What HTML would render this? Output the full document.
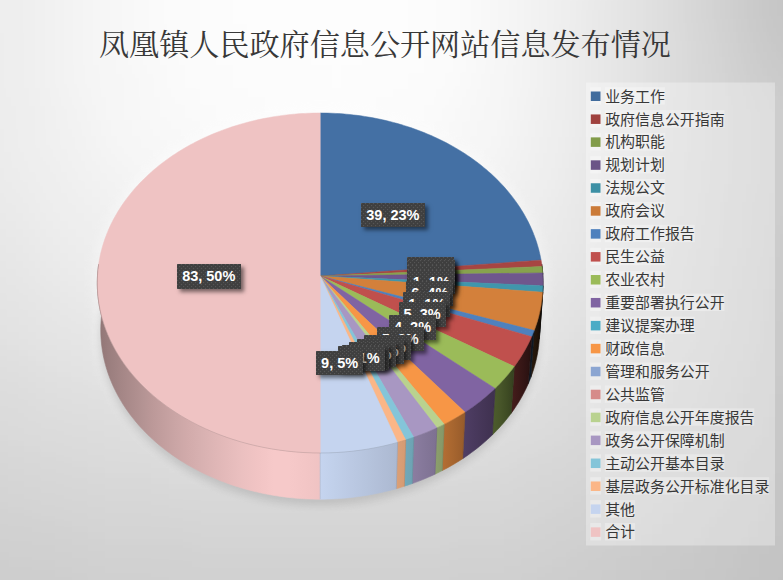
<!DOCTYPE html>
<html lang="zh"><head><meta charset="utf-8"><title>凤凰镇人民政府信息公开网站信息发布情况</title>
<style>
html,body{margin:0;padding:0}
body{width:783px;height:580px;overflow:hidden;position:relative;font-family:"Liberation Sans",sans-serif;
background:#e2e2e2}
#chart{position:absolute;left:0;top:0}
.txt{position:absolute;color:transparent;white-space:nowrap;margin:0;font-weight:normal}
h1.txt{left:99px;top:25px;font-size:30.1px;line-height:34px;letter-spacing:0;width:572px;overflow:hidden;font-family:"Liberation Serif",serif}
ul.txt{left:605.3px;top:84.7px;list-style:none;padding:0;font-size:14.9px;line-height:22.94px;width:169px;overflow:hidden}
ul.txt li{height:22.94px;overflow:hidden}
.lb{position:absolute;height:24.5px;line-height:25.6px;text-align:center;color:#fff;font-weight:bold;font-size:14.5px;white-space:nowrap;
 background-color:#3f3f3f;
 background-image:radial-gradient(circle at 0.5px 0.5px,rgba(255,255,255,0.12) 0.4px,rgba(255,255,255,0) 1.1px),radial-gradient(circle at 2.5px 2.5px,rgba(255,255,255,0.12) 0.4px,rgba(255,255,255,0) 1.1px);
 background-size:4px 4px;background-position:2px 2px;
 box-shadow:3px 3px 4px rgba(0,0,0,0.5)}
</style></head>
<body>
<svg id="chart" width="783" height="580" viewBox="0 0 783 580">
<defs>
<filter id="bgb" filterUnits="userSpaceOnUse" x="-64" y="-64" width="911" height="708"><feGaussianBlur stdDeviation="14"/></filter>
<filter id="b6" x="-20%" y="-20%" width="140%" height="140%"><feGaussianBlur stdDeviation="5"/></filter>
<filter id="b2" x="-20%" y="-20%" width="140%" height="140%"><feGaussianBlur stdDeviation="4"/></filter>
<linearGradient id="w1" gradientUnits="userSpaceOnUse" x1="538.3" y1="0" x2="542.05" y2="0"><stop offset="0.46" stop-color="#0c0505"/><stop offset="0.54" stop-color="#0d0505"/></linearGradient>
<linearGradient id="w2" gradientUnits="userSpaceOnUse" x1="538.59" y1="0" x2="542.71" y2="0"><stop offset="0.42" stop-color="#0a0c06"/><stop offset="0.58" stop-color="#0b0d06"/></linearGradient>
<linearGradient id="w3" gradientUnits="userSpaceOnUse" x1="539.24" y1="0" x2="543.1" y2="0"><stop offset="0.45" stop-color="#09070c"/><stop offset="0.54" stop-color="#0a080d"/><stop offset="0.54" stop-color="#0b080e"/></linearGradient>
<linearGradient id="w4" gradientUnits="userSpaceOnUse" x1="539.29" y1="0" x2="543.07" y2="0"><stop offset="0.46" stop-color="#071012"/><stop offset="0.54" stop-color="#060f11"/></linearGradient>
<linearGradient id="w5" gradientUnits="userSpaceOnUse" x1="530.85" y1="0" x2="542.78" y2="0"><stop offset="0.14" stop-color="#28180b"/><stop offset="0.41" stop-color="#22150a"/><stop offset="0.62" stop-color="#1d1108"/><stop offset="0.77" stop-color="#180f07"/><stop offset="0.85" stop-color="#160d06"/></linearGradient>
<linearGradient id="w6" gradientUnits="userSpaceOnUse" x1="528.35" y1="0" x2="534.24" y2="0"><stop offset="0.28" stop-color="#101b27"/><stop offset="0.71" stop-color="#0f1823"/></linearGradient>
<linearGradient id="w7" gradientUnits="userSpaceOnUse" x1="511.22" y1="0" x2="531.7" y2="0"><stop offset="0.08" stop-color="#441c1b"/><stop offset="0.4" stop-color="#3a1817"/><stop offset="0.68" stop-color="#311414"/><stop offset="0.92" stop-color="#281110"/></linearGradient>
<linearGradient id="w8" gradientUnits="userSpaceOnUse" x1="492.28" y1="0" x2="514.32" y2="0"><stop offset="0.06" stop-color="#4c5c2c"/><stop offset="0.37" stop-color="#475529"/><stop offset="0.66" stop-color="#3f4c24"/><stop offset="0.93" stop-color="#374220"/></linearGradient>
<linearGradient id="w19" gradientUnits="userSpaceOnUse" x1="97.3" y1="0" x2="320.2" y2="0"><stop offset="0.01" stop-color="#8e7474"/><stop offset="0.01" stop-color="#8c7272"/><stop offset="0.01" stop-color="#917676"/><stop offset="0.01" stop-color="#897070"/><stop offset="0.02" stop-color="#937878"/><stop offset="0.03" stop-color="#967a7a"/><stop offset="0.05" stop-color="#9a7e7e"/><stop offset="0.08" stop-color="#9f8282"/><stop offset="0.1" stop-color="#a38585"/><stop offset="0.13" stop-color="#a88989"/><stop offset="0.17" stop-color="#ae8e8e"/><stop offset="0.21" stop-color="#b59494"/><stop offset="0.25" stop-color="#bc9999"/><stop offset="0.3" stop-color="#c39f9f"/><stop offset="0.35" stop-color="#caa5a5"/><stop offset="0.41" stop-color="#d2abab"/><stop offset="0.47" stop-color="#d8b1b1"/><stop offset="0.53" stop-color="#dfb6b6"/><stop offset="0.59" stop-color="#e5bbbb"/><stop offset="0.65" stop-color="#ebc0c0"/><stop offset="0.72" stop-color="#f1c4c4"/><stop offset="0.79" stop-color="#f6c9c9"/><stop offset="0.86" stop-color="#f6c9c9"/><stop offset="0.93" stop-color="#f3c6c6"/><stop offset="1" stop-color="#efc3c3"/></linearGradient>
<linearGradient id="w9" gradientUnits="userSpaceOnUse" x1="462.7" y1="0" x2="495.09" y2="0"><stop offset="0.04" stop-color="#4f3e64"/><stop offset="0.36" stop-color="#49395d"/><stop offset="0.67" stop-color="#443556"/><stop offset="0.96" stop-color="#3f3150"/></linearGradient>
<linearGradient id="w11" gradientUnits="userSpaceOnUse" x1="442.21" y1="0" x2="465.04" y2="0"><stop offset="0.04" stop-color="#b36d33"/><stop offset="0.51" stop-color="#a6652f"/><stop offset="0.95" stop-color="#985c2b"/></linearGradient>
<linearGradient id="w14" gradientUnits="userSpaceOnUse" x1="434.97" y1="0" x2="444.21" y2="0"><stop offset="0.1" stop-color="#8b9e6b"/><stop offset="0.89" stop-color="#869868"/></linearGradient>
<linearGradient id="w15" gradientUnits="userSpaceOnUse" x1="412.23" y1="0" x2="436.86" y2="0"><stop offset="0.03" stop-color="#8b7da0"/><stop offset="0.5" stop-color="#847799"/><stop offset="0.96" stop-color="#7e7192"/></linearGradient>
<linearGradient id="w16" gradientUnits="userSpaceOnUse" x1="404.34" y1="0" x2="413.75" y2="0"><stop offset="0.07" stop-color="#70a8b9"/><stop offset="0.92" stop-color="#6da3b3"/></linearGradient>
<linearGradient id="w17" gradientUnits="userSpaceOnUse" x1="396.32" y1="0" x2="405.73" y2="0"><stop offset="0.07" stop-color="#db9f76"/><stop offset="0.93" stop-color="#d59b73"/></linearGradient>
<linearGradient id="w18" gradientUnits="userSpaceOnUse" x1="320.2" y1="0" x2="397.57" y2="0"><stop offset="0" stop-color="#c5d4ef"/><stop offset="0.2" stop-color="#c0cfe9"/><stop offset="0.4" stop-color="#bbc9e3"/><stop offset="0.6" stop-color="#b6c4dd"/><stop offset="0.8" stop-color="#b1bed7"/><stop offset="0.99" stop-color="#acb9d1"/></linearGradient>
</defs>
<g filter="url(#bgb)"><path fill="#c3c3c3" d="M768,544h33v33h-33zM800,544h33v33h-33zM832,544h33v33h-33zM768,576h33v33h-33zM800,576h33v33h-33zM832,576h33v33h-33zM768,608h33v33h-33zM800,608h33v33h-33zM832,608h33v33h-33zM768,640h33v33h-33zM800,640h33v33h-33zM832,640h33v33h-33z"/><path fill="#c4c4c4" d="M768,512h33v33h-33zM800,512h33v33h-33zM832,512h33v33h-33zM736,576h33v33h-33zM736,608h33v33h-33zM736,640h33v33h-33z"/><path fill="#c5c5c5" d="M768,-64h33v33h-33zM800,-64h33v33h-33zM832,-64h33v33h-33zM768,-32h33v33h-33zM800,-32h33v33h-33zM832,-32h33v33h-33zM768,0h33v33h-33zM800,0h33v33h-33zM832,0h33v33h-33zM768,480h33v33h-33zM800,480h33v33h-33zM832,480h33v33h-33zM736,544h33v33h-33z"/><path fill="#c6c6c6" d="M768,448h33v33h-33zM800,448h33v33h-33zM832,448h33v33h-33zM736,512h33v33h-33zM704,576h33v33h-33zM704,608h33v33h-33zM704,640h33v33h-33z"/><path fill="#c7c7c7" d="M768,32h33v33h-33zM800,32h33v33h-33zM832,32h33v33h-33zM768,416h33v33h-33zM800,416h33v33h-33zM832,416h33v33h-33zM736,480h33v33h-33zM704,544h33v33h-33z"/><path fill="#c8c8c8" d="M768,384h33v33h-33zM800,384h33v33h-33zM832,384h33v33h-33zM736,448h33v33h-33zM704,512h33v33h-33zM672,576h33v33h-33zM672,608h33v33h-33zM672,640h33v33h-33z"/><path fill="#c9c9c9" d="M768,320h33v33h-33zM800,320h33v33h-33zM832,320h33v33h-33zM768,352h33v33h-33zM800,352h33v33h-33zM832,352h33v33h-33zM672,544h33v33h-33zM640,576h33v33h-33zM640,608h33v33h-33zM640,640h33v33h-33z"/><path fill="#cacaca" d="M736,-64h33v33h-33zM736,-32h33v33h-33zM736,0h33v33h-33zM768,64h33v33h-33zM800,64h33v33h-33zM832,64h33v33h-33zM768,288h33v33h-33zM800,288h33v33h-33zM832,288h33v33h-33zM736,416h33v33h-33zM704,480h33v33h-33zM672,512h33v33h-33zM640,544h33v33h-33z"/><path fill="#cbcbcb" d="M768,224h33v33h-33zM800,224h33v33h-33zM832,224h33v33h-33zM768,256h33v33h-33zM800,256h33v33h-33zM832,256h33v33h-33zM736,384h33v33h-33zM704,448h33v33h-33zM608,576h33v33h-33zM608,608h33v33h-33zM608,640h33v33h-33z"/><path fill="#cccccc" d="M736,32h33v33h-33zM768,96h33v33h-33zM800,96h33v33h-33zM832,96h33v33h-33zM768,128h33v33h-33zM800,128h33v33h-33zM832,128h33v33h-33zM768,160h33v33h-33zM800,160h33v33h-33zM832,160h33v33h-33zM768,192h33v33h-33zM800,192h33v33h-33zM832,192h33v33h-33zM736,352h33v33h-33zM704,416h33v33h-33zM672,480h33v33h-33zM640,512h33v33h-33zM608,544h33v33h-33zM576,576h33v33h-33zM576,608h33v33h-33zM576,640h33v33h-33z"/><path fill="#cdcdcd" d="M736,288h33v33h-33zM736,320h33v33h-33zM576,544h33v33h-33zM-64,576h33v33h-33zM-32,576h33v33h-33zM0,576h33v33h-33zM544,576h33v33h-33zM-64,608h33v33h-33zM-32,608h33v33h-33zM0,608h33v33h-33zM544,608h33v33h-33zM-64,640h33v33h-33zM-32,640h33v33h-33zM0,640h33v33h-33zM544,640h33v33h-33z"/><path fill="#cecece" d="M736,64h33v33h-33zM736,256h33v33h-33zM704,384h33v33h-33zM672,448h33v33h-33zM640,480h33v33h-33zM608,512h33v33h-33zM-64,544h33v33h-33zM-32,544h33v33h-33zM32,576h33v33h-33zM64,576h33v33h-33zM512,576h33v33h-33zM32,608h33v33h-33zM64,608h33v33h-33zM512,608h33v33h-33zM32,640h33v33h-33zM64,640h33v33h-33zM512,640h33v33h-33z"/><path fill="#cfcfcf" d="M736,192h33v33h-33zM736,224h33v33h-33zM704,352h33v33h-33zM672,416h33v33h-33zM0,544h33v33h-33zM32,544h33v33h-33zM544,544h33v33h-33zM96,576h33v33h-33zM128,576h33v33h-33zM448,576h33v33h-33zM480,576h33v33h-33zM96,608h33v33h-33zM128,608h33v33h-33zM448,608h33v33h-33zM480,608h33v33h-33zM96,640h33v33h-33zM128,640h33v33h-33zM448,640h33v33h-33zM480,640h33v33h-33z"/><path fill="#d0d0d0" d="M736,96h33v33h-33zM736,128h33v33h-33zM736,160h33v33h-33zM704,320h33v33h-33zM640,448h33v33h-33zM608,480h33v33h-33zM576,512h33v33h-33zM64,544h33v33h-33zM512,544h33v33h-33zM160,576h33v33h-33zM192,576h33v33h-33zM224,576h33v33h-33zM256,576h33v33h-33zM288,576h33v33h-33zM320,576h33v33h-33zM352,576h33v33h-33zM384,576h33v33h-33zM416,576h33v33h-33zM160,608h33v33h-33zM192,608h33v33h-33zM224,608h33v33h-33zM256,608h33v33h-33zM288,608h33v33h-33zM320,608h33v33h-33zM352,608h33v33h-33zM384,608h33v33h-33zM416,608h33v33h-33zM160,640h33v33h-33zM192,640h33v33h-33zM224,640h33v33h-33zM256,640h33v33h-33zM288,640h33v33h-33zM320,640h33v33h-33zM352,640h33v33h-33zM384,640h33v33h-33zM416,640h33v33h-33z"/><path fill="#d1d1d1" d="M704,-64h33v33h-33zM704,-32h33v33h-33zM704,0h33v33h-33zM704,288h33v33h-33zM672,384h33v33h-33zM-64,512h33v33h-33zM-32,512h33v33h-33zM0,512h33v33h-33zM544,512h33v33h-33zM96,544h33v33h-33zM128,544h33v33h-33zM160,544h33v33h-33zM448,544h33v33h-33zM480,544h33v33h-33z"/><path fill="#d2d2d2" d="M704,256h33v33h-33zM672,352h33v33h-33zM640,416h33v33h-33zM576,480h33v33h-33zM32,512h33v33h-33zM192,544h33v33h-33zM224,544h33v33h-33zM256,544h33v33h-33zM288,544h33v33h-33zM320,544h33v33h-33zM352,544h33v33h-33zM384,544h33v33h-33zM416,544h33v33h-33z"/><path fill="#d3d3d3" d="M704,32h33v33h-33zM704,192h33v33h-33zM704,224h33v33h-33zM608,448h33v33h-33zM-64,480h33v33h-33zM-32,480h33v33h-33zM64,512h33v33h-33zM512,512h33v33h-33z"/><path fill="#d4d4d4" d="M704,64h33v33h-33zM704,96h33v33h-33zM704,128h33v33h-33zM704,160h33v33h-33zM672,320h33v33h-33zM640,384h33v33h-33zM0,480h33v33h-33zM544,480h33v33h-33zM96,512h33v33h-33zM128,512h33v33h-33zM160,512h33v33h-33zM448,512h33v33h-33zM480,512h33v33h-33z"/><path fill="#d5d5d5" d="M672,288h33v33h-33zM608,416h33v33h-33zM576,448h33v33h-33zM32,480h33v33h-33zM512,480h33v33h-33zM192,512h33v33h-33zM224,512h33v33h-33zM256,512h33v33h-33zM288,512h33v33h-33zM320,512h33v33h-33zM352,512h33v33h-33zM384,512h33v33h-33zM416,512h33v33h-33z"/><path fill="#d6d6d6" d="M672,256h33v33h-33zM640,352h33v33h-33zM-64,448h33v33h-33zM-32,448h33v33h-33zM64,480h33v33h-33z"/><path fill="#d7d7d7" d="M672,224h33v33h-33zM640,320h33v33h-33zM608,384h33v33h-33zM576,416h33v33h-33zM0,448h33v33h-33zM544,448h33v33h-33zM96,480h33v33h-33zM128,480h33v33h-33zM448,480h33v33h-33zM480,480h33v33h-33z"/><path fill="#d8d8d8" d="M672,-64h33v33h-33zM672,-32h33v33h-33zM672,0h33v33h-33zM672,160h33v33h-33zM672,192h33v33h-33zM32,448h33v33h-33zM512,448h33v33h-33zM160,480h33v33h-33zM192,480h33v33h-33zM224,480h33v33h-33zM256,480h33v33h-33zM288,480h33v33h-33zM320,480h33v33h-33zM352,480h33v33h-33zM384,480h33v33h-33zM416,480h33v33h-33z"/><path fill="#d9d9d9" d="M672,32h33v33h-33zM672,64h33v33h-33zM672,96h33v33h-33zM672,128h33v33h-33zM640,288h33v33h-33zM608,352h33v33h-33zM-64,416h33v33h-33zM-32,416h33v33h-33zM64,448h33v33h-33z"/><path fill="#dadada" d="M640,256h33v33h-33zM576,384h33v33h-33zM0,416h33v33h-33zM544,416h33v33h-33zM96,448h33v33h-33zM128,448h33v33h-33zM480,448h33v33h-33z"/><path fill="#dbdbdb" d="M608,320h33v33h-33zM-64,384h33v33h-33zM-32,384h33v33h-33zM32,416h33v33h-33zM160,448h33v33h-33zM192,448h33v33h-33zM416,448h33v33h-33zM448,448h33v33h-33z"/><path fill="#dcdcdc" d="M640,224h33v33h-33zM576,352h33v33h-33zM0,384h33v33h-33zM544,384h33v33h-33zM64,416h33v33h-33zM512,416h33v33h-33zM224,448h33v33h-33zM256,448h33v33h-33zM288,448h33v33h-33zM320,448h33v33h-33zM352,448h33v33h-33zM384,448h33v33h-33z"/><path fill="#dddddd" d="M640,160h33v33h-33zM640,192h33v33h-33zM608,288h33v33h-33zM96,416h33v33h-33zM480,416h33v33h-33z"/><path fill="#dedede" d="M640,96h33v33h-33zM640,128h33v33h-33zM-64,352h33v33h-33zM-32,352h33v33h-33zM32,384h33v33h-33zM128,416h33v33h-33zM160,416h33v33h-33zM448,416h33v33h-33z"/><path fill="#dfdfdf" d="M640,-64h33v33h-33zM640,-32h33v33h-33zM640,0h33v33h-33zM640,32h33v33h-33zM640,64h33v33h-33zM608,256h33v33h-33zM576,320h33v33h-33zM0,352h33v33h-33zM544,352h33v33h-33zM64,384h33v33h-33zM512,384h33v33h-33zM192,416h33v33h-33zM224,416h33v33h-33zM256,416h33v33h-33zM288,416h33v33h-33zM320,416h33v33h-33zM352,416h33v33h-33zM384,416h33v33h-33zM416,416h33v33h-33z"/><path fill="#e0e0e0" d="M608,224h33v33h-33zM96,384h33v33h-33zM480,384h33v33h-33z"/><path fill="#e1e1e1" d="M608,192h33v33h-33zM576,288h33v33h-33zM-64,320h33v33h-33zM-32,320h33v33h-33zM32,352h33v33h-33zM128,384h33v33h-33z"/><path fill="#e2e2e2" d="M608,160h33v33h-33zM0,320h33v33h-33zM544,320h33v33h-33zM64,352h33v33h-33zM512,352h33v33h-33zM160,384h33v33h-33zM192,384h33v33h-33zM416,384h33v33h-33zM448,384h33v33h-33z"/><path fill="#e3e3e3" d="M608,128h33v33h-33zM576,256h33v33h-33zM-64,288h33v33h-33zM-32,288h33v33h-33zM224,384h33v33h-33zM256,384h33v33h-33zM288,384h33v33h-33zM320,384h33v33h-33zM352,384h33v33h-33zM384,384h33v33h-33z"/><path fill="#e4e4e4" d="M608,-64h33v33h-33zM608,-32h33v33h-33zM608,0h33v33h-33zM608,32h33v33h-33zM608,64h33v33h-33zM608,96h33v33h-33zM0,288h33v33h-33zM544,288h33v33h-33zM32,320h33v33h-33zM96,352h33v33h-33zM480,352h33v33h-33z"/><path fill="#e5e5e5" d="M576,224h33v33h-33zM-64,256h33v33h-33zM-32,256h33v33h-33zM64,320h33v33h-33zM512,320h33v33h-33zM128,352h33v33h-33zM160,352h33v33h-33zM448,352h33v33h-33z"/><path fill="#e6e6e6" d="M576,192h33v33h-33zM0,256h33v33h-33zM32,288h33v33h-33zM192,352h33v33h-33zM224,352h33v33h-33zM416,352h33v33h-33z"/><path fill="#e7e7e7" d="M576,160h33v33h-33zM-64,224h33v33h-33zM-32,224h33v33h-33zM544,256h33v33h-33zM512,288h33v33h-33zM96,320h33v33h-33zM480,320h33v33h-33zM256,352h33v33h-33zM288,352h33v33h-33zM320,352h33v33h-33zM352,352h33v33h-33zM384,352h33v33h-33z"/><path fill="#e8e8e8" d="M576,128h33v33h-33zM0,224h33v33h-33zM64,288h33v33h-33zM128,320h33v33h-33z"/><path fill="#e9e9e9" d="M576,0h33v33h-33zM576,32h33v33h-33zM576,64h33v33h-33zM576,96h33v33h-33zM-64,192h33v33h-33zM-32,192h33v33h-33zM544,224h33v33h-33zM32,256h33v33h-33zM160,320h33v33h-33zM448,320h33v33h-33z"/><path fill="#eaeaea" d="M576,-64h33v33h-33zM576,-32h33v33h-33zM-64,160h33v33h-33zM-32,160h33v33h-33zM0,192h33v33h-33zM544,192h33v33h-33zM512,256h33v33h-33zM96,288h33v33h-33zM480,288h33v33h-33zM192,320h33v33h-33zM224,320h33v33h-33zM256,320h33v33h-33zM288,320h33v33h-33zM320,320h33v33h-33zM352,320h33v33h-33zM384,320h33v33h-33zM416,320h33v33h-33z"/><path fill="#ebebeb" d="M-64,128h33v33h-33zM-32,128h33v33h-33zM32,224h33v33h-33zM64,256h33v33h-33zM128,288h33v33h-33z"/><path fill="#ececec" d="M-64,32h33v33h-33zM-32,32h33v33h-33zM-64,64h33v33h-33zM-32,64h33v33h-33zM-64,96h33v33h-33zM-32,96h33v33h-33zM0,160h33v33h-33zM544,160h33v33h-33zM512,224h33v33h-33zM160,288h33v33h-33zM448,288h33v33h-33z"/><path fill="#ededed" d="M-64,-64h33v33h-33zM-32,-64h33v33h-33zM-64,-32h33v33h-33zM-32,-32h33v33h-33zM-64,0h33v33h-33zM-32,0h33v33h-33zM0,96h33v33h-33zM0,128h33v33h-33zM544,128h33v33h-33zM32,192h33v33h-33zM64,224h33v33h-33zM96,256h33v33h-33zM480,256h33v33h-33zM192,288h33v33h-33zM224,288h33v33h-33zM416,288h33v33h-33z"/><path fill="#eeeeee" d="M0,-64h33v33h-33zM0,-32h33v33h-33zM0,0h33v33h-33zM0,32h33v33h-33zM544,32h33v33h-33zM0,64h33v33h-33zM544,64h33v33h-33zM544,96h33v33h-33zM32,160h33v33h-33zM512,192h33v33h-33zM128,256h33v33h-33zM256,288h33v33h-33zM288,288h33v33h-33zM320,288h33v33h-33zM352,288h33v33h-33zM384,288h33v33h-33z"/><path fill="#efefef" d="M544,-64h33v33h-33zM544,-32h33v33h-33zM544,0h33v33h-33zM64,192h33v33h-33zM96,224h33v33h-33zM480,224h33v33h-33zM160,256h33v33h-33zM448,256h33v33h-33z"/><path fill="#f0f0f0" d="M32,96h33v33h-33zM32,128h33v33h-33zM512,160h33v33h-33zM192,256h33v33h-33zM416,256h33v33h-33z"/><path fill="#f1f1f1" d="M32,-64h33v33h-33zM32,-32h33v33h-33zM32,0h33v33h-33zM32,32h33v33h-33zM32,64h33v33h-33zM512,128h33v33h-33zM64,160h33v33h-33zM96,192h33v33h-33zM480,192h33v33h-33zM128,224h33v33h-33zM224,256h33v33h-33zM256,256h33v33h-33zM288,256h33v33h-33zM320,256h33v33h-33zM352,256h33v33h-33zM384,256h33v33h-33z"/><path fill="#f2f2f2" d="M512,96h33v33h-33zM64,128h33v33h-33zM160,224h33v33h-33zM448,224h33v33h-33z"/><path fill="#f3f3f3" d="M512,-64h33v33h-33zM512,-32h33v33h-33zM512,0h33v33h-33zM512,32h33v33h-33zM512,64h33v33h-33zM64,96h33v33h-33zM96,160h33v33h-33zM480,160h33v33h-33zM128,192h33v33h-33zM192,224h33v33h-33zM416,224h33v33h-33z"/><path fill="#f4f4f4" d="M64,-64h33v33h-33zM64,-32h33v33h-33zM64,0h33v33h-33zM64,32h33v33h-33zM64,64h33v33h-33zM160,192h33v33h-33zM448,192h33v33h-33zM224,224h33v33h-33zM256,224h33v33h-33zM288,224h33v33h-33zM320,224h33v33h-33zM352,224h33v33h-33zM384,224h33v33h-33z"/><path fill="#f5f5f5" d="M96,128h33v33h-33zM480,128h33v33h-33zM128,160h33v33h-33zM192,192h33v33h-33zM416,192h33v33h-33z"/><path fill="#f6f6f6" d="M96,64h33v33h-33zM480,64h33v33h-33zM96,96h33v33h-33zM480,96h33v33h-33zM448,160h33v33h-33zM224,192h33v33h-33zM256,192h33v33h-33zM384,192h33v33h-33z"/><path fill="#f7f7f7" d="M96,-64h33v33h-33zM480,-64h33v33h-33zM96,-32h33v33h-33zM480,-32h33v33h-33zM96,0h33v33h-33zM480,0h33v33h-33zM96,32h33v33h-33zM480,32h33v33h-33zM128,128h33v33h-33zM448,128h33v33h-33zM160,160h33v33h-33zM288,192h33v33h-33zM320,192h33v33h-33zM352,192h33v33h-33z"/><path fill="#f8f8f8" d="M128,64h33v33h-33zM128,96h33v33h-33zM448,96h33v33h-33zM160,128h33v33h-33zM192,160h33v33h-33zM224,160h33v33h-33zM384,160h33v33h-33zM416,160h33v33h-33z"/><path fill="#f9f9f9" d="M128,-64h33v33h-33zM128,-32h33v33h-33zM128,0h33v33h-33zM128,32h33v33h-33zM448,64h33v33h-33zM160,96h33v33h-33zM192,128h33v33h-33zM416,128h33v33h-33zM256,160h33v33h-33zM288,160h33v33h-33zM320,160h33v33h-33zM352,160h33v33h-33z"/><path fill="#fafafa" d="M448,-64h33v33h-33zM448,-32h33v33h-33zM448,0h33v33h-33zM160,32h33v33h-33zM448,32h33v33h-33zM160,64h33v33h-33zM192,96h33v33h-33zM416,96h33v33h-33zM224,128h33v33h-33zM256,128h33v33h-33zM288,128h33v33h-33zM320,128h33v33h-33zM352,128h33v33h-33zM384,128h33v33h-33z"/><path fill="#fbfbfb" d="M160,-64h33v33h-33zM160,-32h33v33h-33zM160,0h33v33h-33zM192,64h33v33h-33zM416,64h33v33h-33zM224,96h33v33h-33zM384,96h33v33h-33z"/><path fill="#fcfcfc" d="M192,-64h33v33h-33zM416,-64h33v33h-33zM192,-32h33v33h-33zM416,-32h33v33h-33zM192,0h33v33h-33zM416,0h33v33h-33zM192,32h33v33h-33zM224,32h33v33h-33zM416,32h33v33h-33zM224,64h33v33h-33zM256,64h33v33h-33zM288,64h33v33h-33zM352,64h33v33h-33zM384,64h33v33h-33zM256,96h33v33h-33zM288,96h33v33h-33zM320,96h33v33h-33zM352,96h33v33h-33z"/><path fill="#fdfdfd" d="M224,-64h33v33h-33zM256,-64h33v33h-33zM288,-64h33v33h-33zM320,-64h33v33h-33zM352,-64h33v33h-33zM384,-64h33v33h-33zM224,-32h33v33h-33zM256,-32h33v33h-33zM288,-32h33v33h-33zM320,-32h33v33h-33zM352,-32h33v33h-33zM384,-32h33v33h-33zM224,0h33v33h-33zM256,0h33v33h-33zM288,0h33v33h-33zM320,0h33v33h-33zM352,0h33v33h-33zM384,0h33v33h-33zM256,32h33v33h-33zM288,32h33v33h-33zM320,32h33v33h-33zM352,32h33v33h-33zM384,32h33v33h-33zM320,64h33v33h-33z"/></g>
<path d="M97.48,276.1 98.26,267.24 99.64,258.43 101.61,249.72 104.17,241.11 107.31,232.63 111,224.3 115.25,216.15 120.04,208.19 125.35,200.44 131.16,192.93 137.45,185.66 144.21,178.67 151.43,171.95 159.06,165.54 167.11,159.44 175.53,153.67 184.32,148.24 193.45,143.16 202.89,138.45 212.62,134.11 222.62,130.16 232.85,126.6 243.3,123.44 253.93,120.69 264.73,118.35 275.66,116.43 286.7,114.93 297.82,113.86 309,113.22 320.2,113 331.4,113.22 342.58,113.86 353.7,114.93 364.74,116.43 375.67,118.35 386.47,120.69 397.1,123.44 407.55,126.6 417.78,130.16 427.78,134.11 437.51,138.45 446.95,143.16 456.08,148.24 464.87,153.67 473.29,159.44 481.34,165.54 488.97,171.95 496.19,178.67 502.95,185.66 509.24,192.93 515.05,200.44 520.36,208.19 525.15,216.15 529.4,224.3 533.09,232.63 536.23,241.11 538.79,249.72 540.76,258.43 542.14,267.24 542.92,276.1 539.44,323.22 539.6,332.08 539.15,340.95 538.1,349.81 536.45,358.64 534.18,367.4 531.32,376.08 527.85,384.64 523.79,393.07 519.15,401.33 513.94,409.41 508.16,417.28 501.84,424.91 494.98,432.28 487.6,439.37 479.73,446.15 471.39,452.61 462.59,458.72 453.37,464.46 443.75,469.82 433.75,474.77 423.41,479.3 412.75,483.4 401.81,487.05 390.63,490.24 379.22,492.96 367.64,495.19 355.91,496.94 344.07,498.19 332.15,498.94 320.2,499.19 308.25,498.94 296.33,498.19 284.49,496.94 272.76,495.19 261.18,492.96 249.77,490.24 238.59,487.05 227.65,483.4 216.99,479.3 206.65,474.77 196.65,469.82 187.03,464.46 177.81,458.72 169.01,452.61 160.67,446.15 152.8,439.37 145.42,432.28 138.56,424.91 132.24,417.28 126.46,409.41 121.25,401.33 116.61,393.07 112.55,384.64 109.08,376.08 106.22,367.4 103.95,358.64 102.3,349.81 101.25,340.95 100.8,332.08 100.96,323.22Z" fill="#fff" stroke="#fff" stroke-width="12" stroke-linejoin="round" opacity="0.26" filter="url(#b6)"/>
<path d="M320.2,160.77 331.23,160.99 342.24,161.63 353.19,162.7 364.07,164.19 374.83,166.1 385.47,168.43 395.94,171.17 406.23,174.32 416.31,177.87 426.15,181.81 435.73,186.13 445.03,190.82 454.02,195.88 462.67,201.29 470.97,207.04 478.88,213.12 486.4,219.51 493.5,226.2 500.15,233.17 506.35,240.4 512.06,247.89 517.28,255.6 521.99,263.53 526.17,271.65 529.8,279.94 532.88,288.38 535.4,296.96 537.33,305.63 538.68,314.4 539.44,323.22 539.6,332.08 539.15,340.95 538.1,349.81 536.45,358.64 534.18,367.4 531.32,376.08 527.85,384.64 523.79,393.07 519.15,401.33 513.94,409.41 508.16,417.28 501.84,424.91 494.98,432.28 487.6,439.37 479.73,446.15 471.39,452.61 462.59,458.72 453.37,464.46 443.75,469.82 433.75,474.77 423.41,479.3 412.75,483.4 401.81,487.05 390.63,490.24 379.22,492.96 367.64,495.19 355.91,496.94 344.07,498.19 332.15,498.94 320.2,499.19 308.25,498.94 296.33,498.19 284.49,496.94 272.76,495.19 261.18,492.96 249.77,490.24 238.59,487.05 227.65,483.4 216.99,479.3 206.65,474.77 196.65,469.82 187.03,464.46 177.81,458.72 169.01,452.61 160.67,446.15 152.8,439.37 145.42,432.28 138.56,424.91 132.24,417.28 126.46,409.41 121.25,401.33 116.61,393.07 112.55,384.64 109.08,376.08 106.22,367.4 103.95,358.64 102.3,349.81 101.25,340.95 100.8,332.08 100.96,323.22 101.72,314.4 103.07,305.63 105,296.96 107.52,288.38 110.6,279.94 114.23,271.65 118.41,263.53 123.12,255.6 128.34,247.89 134.05,240.4 140.25,233.17 146.9,226.2 154,219.51 161.52,213.12 169.43,207.04 177.73,201.29 186.38,195.88 195.37,190.82 204.67,186.13 214.25,181.81 224.09,177.87 234.17,174.32 244.46,171.17 254.93,168.43 265.57,166.1 276.33,164.19 287.21,162.7 298.16,161.63 309.17,160.99Z" fill="#000" opacity="0.15" filter="url(#b2)" transform="translate(0,6)"/>
<g id="pie">
<path d="M541.75,264.29 542.05,266.49 538.59,313.66 538.3,311.47Z" fill="url(#w1)" stroke="url(#w1)" stroke-width="0.6"/>
<path d="M542.05,266.49 542.3,268.62 542.52,270.75 542.71,272.89 539.24,320.03 539.06,317.9 538.84,315.78 538.59,313.66Z" fill="url(#w2)" stroke="url(#w2)" stroke-width="0.6"/>
<path d="M542.71,272.89 542.88,275.46 543.01,278.03 543.08,280.6 543.1,283.18 543.07,285.75 539.58,332.83 539.61,330.26 539.6,327.7 539.53,325.14 539.41,322.58 539.24,320.03Z" fill="url(#w3)" stroke="url(#w3)" stroke-width="0.6"/>
<path d="M543.07,285.75 543.01,287.9 542.91,290.05 542.78,292.2 539.29,339.24 539.42,337.1 539.52,334.97 539.58,332.83Z" fill="url(#w4)" stroke="url(#w4)" stroke-width="0.6"/>
<path d="M542.78,292.2 542.55,294.96 542.27,297.72 541.92,300.48 541.52,303.23 541.06,305.98 540.54,308.73 539.95,311.47 539.32,314.21 538.62,316.94 537.86,319.66 537.04,322.38 536.17,325.08 535.23,327.78 534.24,330.46 530.85,377.32 531.83,374.65 532.75,371.97 533.62,369.28 534.42,366.58 535.17,363.87 535.86,361.15 536.49,358.43 537.07,355.7 537.58,352.96 538.04,350.23 538.44,347.48 538.78,344.74 539.06,341.99 539.29,339.24Z" fill="url(#w5)" stroke="url(#w5)" stroke-width="0.6"/>
<path d="M534.24,330.46 533.43,332.55 532.58,334.62 531.7,336.69 528.35,383.51 529.22,381.46 530.05,379.39 530.85,377.32Z" fill="url(#w6)" stroke="url(#w6)" stroke-width="0.6"/>
<path d="M531.7,336.69 530.44,339.49 529.11,342.28 527.72,345.06 526.27,347.81 524.75,350.55 523.17,353.27 521.52,355.97 519.82,358.65 518.05,361.31 516.21,363.94 514.32,366.56 511.22,413.23 513.09,410.63 514.89,408.01 516.64,405.37 518.32,402.7 519.94,400.02 521.5,397.31 522.99,394.58 524.43,391.84 525.8,389.08 527.1,386.31 528.35,383.51Z" fill="url(#w7)" stroke="url(#w7)" stroke-width="0.6"/>
<path d="M514.32,366.56 512.41,369.09 510.44,371.59 508.42,374.08 506.33,376.53 504.19,378.96 502,381.37 499.75,383.74 497.44,386.09 495.09,388.4 492.28,434.96 494.6,432.66 496.87,430.32 499.09,427.96 501.25,425.57 503.36,423.15 505.41,420.71 507.4,418.24 509.34,415.75 511.22,413.23Z" fill="url(#w8)" stroke="url(#w8)" stroke-width="0.6"/>
<path d="M320.2,453 316.15,452.97 312.1,452.89 308.05,452.75 304.01,452.55 299.97,452.3 295.94,451.99 291.92,451.63 287.91,451.21 283.9,450.73 279.91,450.2 275.94,449.62 271.98,448.97 268.04,448.28 264.11,447.53 260.2,446.73 256.32,445.87 252.45,444.96 248.61,443.99 244.8,442.98 241,441.91 237.24,440.79 233.5,439.62 229.8,438.39 226.12,437.12 222.48,435.79 218.87,434.42 215.29,433 211.75,431.52 208.25,430 204.78,428.44 201.36,426.82 197.97,425.16 194.62,423.46 191.32,421.7 188.06,419.91 184.84,418.07 181.67,416.19 178.55,414.26 175.47,412.29 172.44,410.29 169.46,408.24 166.54,406.15 163.66,404.02 160.83,401.86 158.06,399.66 155.34,397.42 152.68,395.14 150.07,392.84 147.51,390.49 145.02,388.12 142.58,385.71 140.2,383.27 137.87,380.8 135.61,378.3 133.41,375.77 131.27,373.21 129.19,370.63 127.17,368.01 125.22,365.38 123.32,362.72 121.49,360.03 119.73,357.33 118.03,354.6 116.39,351.85 114.82,349.08 113.32,346.29 111.88,343.48 110.51,340.66 109.2,337.82 107.97,334.96 106.79,332.1 105.69,329.21 104.65,326.32 103.69,323.41 102.78,320.49 101.95,317.57 101.19,314.63 100.49,311.69 99.87,308.74 99.31,305.78 98.82,302.82 98.39,299.85 98.04,296.89 97.76,293.92 97.54,290.94 97.39,287.97 97.31,285 97.3,282.03 97.36,279.06 97.48,276.1 97.67,273.14 97.93,270.19 98.26,267.24 98.65,264.29 102.1,311.47 101.72,314.4 101.4,317.33 101.15,320.27 100.96,323.22 100.84,326.17 100.79,329.12 100.8,332.08 100.88,335.04 101.03,338 101.25,340.95 101.53,343.91 101.88,346.86 102.3,349.81 102.78,352.76 103.33,355.7 103.95,358.64 104.64,361.57 105.4,364.49 106.22,367.4 107.11,370.3 108.06,373.2 109.08,376.08 110.17,378.95 111.33,381.8 112.55,384.64 113.84,387.47 115.19,390.28 116.61,393.07 118.09,395.84 119.64,398.6 121.25,401.33 122.92,404.05 124.66,406.74 126.46,409.41 128.33,412.06 130.25,414.68 132.24,417.28 134.29,419.85 136.4,422.39 138.56,424.91 140.79,427.4 143.08,429.85 145.42,432.28 147.82,434.68 150.28,437.04 152.8,439.37 155.37,441.66 157.99,443.93 160.67,446.15 163.4,448.34 166.18,450.49 169.01,452.61 171.89,454.69 174.83,456.72 177.81,458.72 180.83,460.67 183.91,462.59 187.03,464.46 190.19,466.29 193.4,468.08 196.65,469.82 199.95,471.51 203.28,473.17 206.65,474.77 210.06,476.33 213.51,477.84 216.99,479.3 220.51,480.72 224.06,482.09 227.65,483.4 231.26,484.67 234.91,485.89 238.59,487.05 242.29,488.17 246.02,489.23 249.77,490.24 253.55,491.2 257.36,492.1 261.18,492.96 265.02,493.75 268.88,494.5 272.76,495.19 276.66,495.83 280.57,496.41 284.49,496.94 288.43,497.41 292.38,497.83 296.33,498.19 300.3,498.49 304.27,498.75 308.25,498.94 312.23,499.08 316.21,499.16 320.2,499.19Z" fill="url(#w19)" stroke="url(#w19)" stroke-width="0.6"/>
<path d="M495.09,388.4 492.62,390.74 490.1,393.05 487.52,395.32 484.89,397.56 482.21,399.77 479.47,401.93 476.68,404.07 473.84,406.16 470.96,408.22 468.02,410.24 465.04,412.22 462.7,458.65 465.64,456.68 468.53,454.67 471.37,452.62 474.16,450.54 476.91,448.42 479.6,446.26 482.24,444.07 484.83,441.84 487.37,439.58 489.85,437.29 492.28,434.96Z" fill="url(#w9)" stroke="url(#w9)" stroke-width="0.6"/>
<path d="M465.04,412.22 462.18,414.05 459.28,415.85 456.35,417.61 453.37,419.33 450.35,421.01 447.3,422.66 444.21,424.26 442.21,470.62 445.25,469.02 448.25,467.39 451.22,465.71 454.15,464 457.04,462.25 459.89,460.47 462.7,458.65Z" fill="url(#w11)" stroke="url(#w11)" stroke-width="0.6"/>
<path d="M444.21,424.26 441.78,425.49 439.33,426.68 436.86,427.86 434.97,474.2 437.4,473.03 439.82,471.84 442.21,470.62Z" fill="url(#w14)" stroke="url(#w14)" stroke-width="0.6"/>
<path d="M436.86,427.86 433.65,429.33 430.41,430.77 427.14,432.16 423.84,433.51 420.5,434.82 417.14,436.08 413.75,437.3 412.23,483.59 415.57,482.37 418.88,481.11 422.16,479.81 425.41,478.47 428.63,477.09 431.82,475.66 434.97,474.2Z" fill="url(#w15)" stroke="url(#w15)" stroke-width="0.6"/>
<path d="M413.75,437.3 411.09,438.23 408.42,439.12 405.73,439.99 404.34,486.26 406.99,485.39 409.62,484.5 412.23,483.59Z" fill="url(#w16)" stroke="url(#w16)" stroke-width="0.6"/>
<path d="M405.73,439.99 403.02,440.83 400.3,441.64 397.57,442.43 396.32,488.68 399,487.9 401.68,487.09 404.34,486.26Z" fill="url(#w17)" stroke="url(#w17)" stroke-width="0.6"/>
<path d="M397.57,442.43 393.86,443.45 390.12,444.42 386.37,445.34 382.59,446.21 378.79,447.02 374.97,447.79 371.13,448.5 367.28,449.17 363.41,449.78 359.53,450.33 355.63,450.84 351.72,451.29 347.8,451.69 343.88,452.04 339.94,452.33 336,452.57 332.06,452.76 328.11,452.89 324.15,452.97 320.2,453 320.2,499.19 324.09,499.17 327.98,499.09 331.86,498.95 335.75,498.77 339.62,498.53 343.49,498.24 347.36,497.89 351.21,497.49 355.05,497.04 358.89,496.54 362.71,495.99 366.51,495.38 370.3,494.72 374.08,494.01 377.83,493.25 381.57,492.44 385.29,491.57 388.99,490.66 392.66,489.7 396.32,488.68Z" fill="url(#w18)" stroke="url(#w18)" stroke-width="0.6"/>
<path d="M320.2,276.1 320.2,113 323.92,113.02 327.63,113.09 331.35,113.21 335.06,113.38 338.76,113.59 342.47,113.85 346.16,114.16 349.85,114.51 353.53,114.91 357.21,115.36 360.87,115.85 364.52,116.39 368.16,116.98 371.79,117.62 375.4,118.3 379,119.02 382.58,119.79 386.15,120.61 389.7,121.47 393.23,122.38 396.74,123.34 400.22,124.33 403.69,125.38 407.14,126.46 410.56,127.6 413.96,128.77 417.33,129.99 420.68,131.25 424,132.56 427.29,133.9 430.55,135.29 433.78,136.73 436.98,138.2 440.15,139.72 443.29,141.27 446.4,142.87 449.47,144.51 452.5,146.18 455.5,147.9 458.46,149.65 461.38,151.45 464.27,153.28 467.11,155.15 469.92,157.05 472.68,159 475.4,160.98 478.08,162.99 480.71,165.04 483.3,167.13 485.85,169.25 488.35,171.4 490.8,173.59 493.2,175.8 495.56,178.05 497.87,180.34 500.12,182.65 502.33,184.99 504.49,187.36 506.59,189.77 508.64,192.2 510.64,194.65 512.58,197.14 514.47,199.65 516.31,202.19 518.08,204.75 519.81,207.33 521.47,209.94 523.08,212.58 524.63,215.23 526.12,217.91 527.55,220.61 528.92,223.32 530.23,226.06 531.48,228.82 532.67,231.59 533.79,234.38 534.86,237.19 535.86,240.01 536.8,242.84 537.67,245.69 538.48,248.56 539.23,251.43 539.91,254.32 540.53,257.22 541.08,260.13Z" fill="#4470a4" stroke="#4470a4" stroke-width="0.5" stroke-linejoin="round"/>
<path d="M320.2,276.1 541.08,260.13 541.44,262.24 541.76,264.37 542.05,266.49Z" fill="#a74542" stroke="#a74542" stroke-width="0.5" stroke-linejoin="round"/>
<path d="M320.2,276.1 542.05,266.49 542.3,268.62 542.52,270.75 542.71,272.89Z" fill="#87a24d" stroke="#87a24d" stroke-width="0.5" stroke-linejoin="round"/>
<path d="M320.2,276.1 542.71,272.89 542.88,275.46 543.01,278.03 543.08,280.6 543.1,283.18 543.07,285.75Z" fill="#6f578d" stroke="#6f578d" stroke-width="0.5" stroke-linejoin="round"/>
<path d="M320.2,276.1 543.07,285.75 543.01,287.9 542.91,290.05 542.78,292.2Z" fill="#4096ac" stroke="#4096ac" stroke-width="0.5" stroke-linejoin="round"/>
<path d="M320.2,276.1 542.78,292.2 542.55,294.96 542.27,297.72 541.92,300.48 541.52,303.23 541.06,305.98 540.54,308.73 539.95,311.47 539.32,314.21 538.62,316.94 537.86,319.66 537.04,322.38 536.17,325.08 535.23,327.78 534.24,330.46Z" fill="#d3803b" stroke="#d3803b" stroke-width="0.5" stroke-linejoin="round"/>
<path d="M320.2,276.1 534.24,330.46 533.43,332.55 532.58,334.62 531.7,336.69Z" fill="#4f81bd" stroke="#4f81bd" stroke-width="0.5" stroke-linejoin="round"/>
<path d="M320.2,276.1 531.7,336.69 530.44,339.49 529.11,342.28 527.72,345.06 526.27,347.81 524.75,350.55 523.17,353.27 521.52,355.97 519.82,358.65 518.05,361.31 516.21,363.94 514.32,366.56Z" fill="#c0504d" stroke="#c0504d" stroke-width="0.5" stroke-linejoin="round"/>
<path d="M320.2,276.1 514.32,366.56 512.41,369.09 510.44,371.59 508.42,374.08 506.33,376.53 504.19,378.96 502,381.37 499.75,383.74 497.44,386.09 495.09,388.4Z" fill="#9bbb59" stroke="#9bbb59" stroke-width="0.5" stroke-linejoin="round"/>
<path d="M320.2,276.1 495.09,388.4 492.62,390.74 490.1,393.05 487.52,395.32 484.89,397.56 482.21,399.77 479.47,401.93 476.68,404.07 473.84,406.16 470.96,408.22 468.02,410.24 465.04,412.22Z" fill="#8064a2" stroke="#8064a2" stroke-width="0.5" stroke-linejoin="round"/>
<path d="M320.2,276.1 465.04,412.22 462.18,414.05 459.28,415.85 456.35,417.61 453.37,419.33 450.35,421.01 447.3,422.66 444.21,424.26Z" fill="#f79646" stroke="#f79646" stroke-width="0.5" stroke-linejoin="round"/>
<path d="M320.2,276.1 444.21,424.26 441.78,425.49 439.33,426.68 436.86,427.86Z" fill="#b9d28f" stroke="#b9d28f" stroke-width="0.5" stroke-linejoin="round"/>
<path d="M320.2,276.1 436.86,427.86 433.65,429.33 430.41,430.77 427.14,432.16 423.84,433.51 420.5,434.82 417.14,436.08 413.75,437.3Z" fill="#a897c2" stroke="#a897c2" stroke-width="0.5" stroke-linejoin="round"/>
<path d="M320.2,276.1 413.75,437.3 411.09,438.23 408.42,439.12 405.73,439.99Z" fill="#84c5d9" stroke="#84c5d9" stroke-width="0.5" stroke-linejoin="round"/>
<path d="M320.2,276.1 405.73,439.99 403.02,440.83 400.3,441.64 397.57,442.43Z" fill="#fbb687" stroke="#fbb687" stroke-width="0.5" stroke-linejoin="round"/>
<path d="M320.2,276.1 397.57,442.43 393.86,443.45 390.12,444.42 386.37,445.34 382.59,446.21 378.79,447.02 374.97,447.79 371.13,448.5 367.28,449.17 363.41,449.78 359.53,450.33 355.63,450.84 351.72,451.29 347.8,451.69 343.88,452.04 339.94,452.33 336,452.57 332.06,452.76 328.11,452.89 324.15,452.97 320.2,453Z" fill="#c5d4ef" stroke="#c5d4ef" stroke-width="0.5" stroke-linejoin="round"/>
<path d="M320.2,276.1 320.2,453 316.15,452.97 312.1,452.89 308.05,452.75 304.01,452.55 299.97,452.3 295.94,451.99 291.92,451.63 287.91,451.21 283.9,450.73 279.91,450.2 275.94,449.62 271.98,448.97 268.04,448.28 264.11,447.53 260.2,446.73 256.32,445.87 252.45,444.96 248.61,443.99 244.8,442.98 241,441.91 237.24,440.79 233.5,439.62 229.8,438.39 226.12,437.12 222.48,435.79 218.87,434.42 215.29,433 211.75,431.52 208.25,430 204.78,428.44 201.36,426.82 197.97,425.16 194.62,423.46 191.32,421.7 188.06,419.91 184.84,418.07 181.67,416.19 178.55,414.26 175.47,412.29 172.44,410.29 169.46,408.24 166.54,406.15 163.66,404.02 160.83,401.86 158.06,399.66 155.34,397.42 152.68,395.14 150.07,392.84 147.51,390.49 145.02,388.12 142.58,385.71 140.2,383.27 137.87,380.8 135.61,378.3 133.41,375.77 131.27,373.21 129.19,370.63 127.17,368.01 125.22,365.38 123.32,362.72 121.49,360.03 119.73,357.33 118.03,354.6 116.39,351.85 114.82,349.08 113.32,346.29 111.88,343.48 110.51,340.66 109.2,337.82 107.97,334.96 106.79,332.1 105.69,329.21 104.65,326.32 103.69,323.41 102.78,320.49 101.95,317.57 101.19,314.63 100.49,311.69 99.87,308.74 99.31,305.78 98.82,302.82 98.39,299.85 98.04,296.89 97.76,293.92 97.54,290.94 97.39,287.97 97.31,285 97.3,282.03 97.36,279.06 97.48,276.1 97.67,273.14 97.93,270.19 98.26,267.24 98.65,264.29 99.11,261.36 99.64,258.43 100.23,255.52 100.89,252.61 101.61,249.72 102.4,246.83 103.25,243.96 104.17,241.11 105.15,238.27 106.2,235.44 107.31,232.63 108.48,229.84 109.71,227.06 111,224.3 112.36,221.57 113.78,218.85 115.25,216.15 116.79,213.47 118.39,210.82 120.04,208.19 121.75,205.58 123.52,203 125.35,200.44 127.23,197.91 129.16,195.41 131.16,192.93 133.2,190.48 135.3,188.06 137.45,185.66 139.65,183.3 141.91,180.97 144.21,178.67 146.57,176.4 148.97,174.16 151.43,171.95 153.92,169.78 156.47,167.64 159.06,165.54 161.7,163.47 164.38,161.44 167.11,159.44 169.87,157.48 172.68,155.55 175.53,153.67 178.43,151.82 181.36,150.01 184.32,148.24 187.33,146.5 190.37,144.81 193.45,143.16 196.56,141.55 199.71,139.98 202.89,138.45 206.1,136.96 209.35,135.51 212.62,134.11 215.93,132.75 219.26,131.43 222.62,130.16 226,128.93 229.41,127.74 232.85,126.6 236.31,125.5 239.79,124.45 243.3,123.44 246.82,122.47 250.37,121.56 253.93,120.69 257.52,119.86 261.12,119.08 264.73,118.35 268.36,117.66 272,117.02 275.66,116.43 279.33,115.88 283.01,115.38 286.7,114.93 290.4,114.53 294.11,114.17 297.82,113.86 301.54,113.6 305.27,113.38 309,113.22 312.73,113.1 316.46,113.02 320.2,113Z" fill="#efc3c3" stroke="#efc3c3" stroke-width="0.5" stroke-linejoin="round"/>
<path d="M541.75,264.29 542.47,270.19 542.92,276.1 543.1,282.03 543.01,287.97 542.64,293.92 542.01,299.85 541.09,305.78 539.91,311.69 538.45,317.57 536.71,323.41 534.71,329.21 532.43,334.96 529.89,340.66 527.08,346.29 524.01,351.85 520.67,357.33 517.08,362.72 513.23,368.01 509.13,373.21 504.79,378.3 500.2,383.27 495.38,388.12 490.33,392.84 485.06,397.42 479.57,401.86 473.86,406.15 467.96,410.29 461.85,414.26 455.56,418.07 449.08,421.7 442.43,425.16 435.62,428.44 428.65,431.52 421.53,434.42 414.28,437.12 406.9,439.62 399.4,441.91 391.79,443.99 384.08,445.87 376.29,447.53 368.42,448.97 360.49,450.2 352.49,451.21 344.46,451.99 336.39,452.55 328.3,452.89 320.2,453 312.1,452.89 304.01,452.55 295.94,451.99 287.91,451.21 279.91,450.2 271.98,448.97 264.11,447.53 256.32,445.87 248.61,443.99 241,441.91 233.5,439.62 226.12,437.12 218.87,434.42 211.75,431.52 204.78,428.44 197.97,425.16 191.32,421.7 184.84,418.07 178.55,414.26 172.44,410.29 166.54,406.15 160.83,401.86 155.34,397.42 150.07,392.84 145.02,388.12 140.2,383.27 135.61,378.3 131.27,373.21 127.17,368.01 123.32,362.72 119.73,357.33 116.39,351.85 113.32,346.29 110.51,340.66 107.97,334.96 105.69,329.21 103.69,323.41 101.95,317.57 100.49,311.69 99.31,305.78 98.39,299.85 97.76,293.92 97.39,287.97 97.3,282.03 97.48,276.1 97.93,270.19 98.65,264.29" fill="none" stroke="#000" stroke-opacity="0.13" stroke-width="0.9"/>
<path d="M543.07,285.75 539.58,332.83" stroke="#000" stroke-opacity="0.10" stroke-width="0.8"/>
<path d="M542.78,292.2 539.29,339.24" stroke="#000" stroke-opacity="0.10" stroke-width="0.8"/>
<path d="M534.24,330.46 530.85,377.32" stroke="#000" stroke-opacity="0.10" stroke-width="0.8"/>
<path d="M531.7,336.69 528.35,383.51" stroke="#000" stroke-opacity="0.10" stroke-width="0.8"/>
<path d="M514.32,366.56 511.22,413.23" stroke="#000" stroke-opacity="0.10" stroke-width="0.8"/>
<path d="M495.09,388.4 492.28,434.96" stroke="#000" stroke-opacity="0.10" stroke-width="0.8"/>
<path d="M465.04,412.22 462.7,458.65" stroke="#000" stroke-opacity="0.10" stroke-width="0.8"/>
<path d="M444.21,424.26 442.21,470.62" stroke="#000" stroke-opacity="0.10" stroke-width="0.8"/>
<path d="M436.86,427.86 434.97,474.2" stroke="#000" stroke-opacity="0.10" stroke-width="0.8"/>
<path d="M413.75,437.3 412.23,483.59" stroke="#000" stroke-opacity="0.10" stroke-width="0.8"/>
<path d="M405.73,439.99 404.34,486.26" stroke="#000" stroke-opacity="0.10" stroke-width="0.8"/>
<path d="M397.57,442.43 396.32,488.68" stroke="#000" stroke-opacity="0.10" stroke-width="0.8"/>
<path d="M320.2,453 320.2,499.19" stroke="#000" stroke-opacity="0.10" stroke-width="0.8"/>
</g>
<g id="title"><text x="99" y="54.7" font-size="30.1" fill="#383838" textLength="571.9" font-family="'Liberation Serif','Noto Serif CJK SC',serif">凤凰镇人民政府信息公开网站信息发布情况</text></g>
<g id="legend" font-family="'Liberation Sans','Noto Sans CJK SC',sans-serif" font-size="14.95" fill="#383838">
<rect x="586" y="82.5" width="189" height="463.0" fill="#fff" fill-opacity="0.32"/>
<rect x="604.8" y="87.2" width="60.1" height="17.4" fill="#fff" fill-opacity="0.3"/>
<rect x="590.2" y="87.2" width="10.9" height="17.4" fill="#fff" fill-opacity="0.3"/>
<rect x="590.8" y="91.5" width="9.7" height="9.5" fill="#416c9d"/>
<text x="605.2" y="101.6">业务工作</text>
<rect x="604.8" y="110.14" width="119.7" height="17.4" fill="#fff" fill-opacity="0.3"/>
<rect x="590.2" y="110.14" width="10.9" height="17.4" fill="#fff" fill-opacity="0.3"/>
<rect x="590.8" y="114.44" width="9.7" height="9.5" fill="#a0423f"/>
<text x="605.2" y="124.54">政府信息公开指南</text>
<rect x="604.8" y="133.08" width="60.1" height="17.4" fill="#fff" fill-opacity="0.3"/>
<rect x="590.2" y="133.08" width="10.9" height="17.4" fill="#fff" fill-opacity="0.3"/>
<rect x="590.8" y="137.38" width="9.7" height="9.5" fill="#829c4a"/>
<text x="605.2" y="147.48">机构职能</text>
<rect x="604.8" y="156.02" width="60.1" height="17.4" fill="#fff" fill-opacity="0.3"/>
<rect x="590.2" y="156.02" width="10.9" height="17.4" fill="#fff" fill-opacity="0.3"/>
<rect x="590.8" y="160.32" width="9.7" height="9.5" fill="#6b5487"/>
<text x="605.2" y="170.42">规划计划</text>
<rect x="604.8" y="178.96" width="60.1" height="17.4" fill="#fff" fill-opacity="0.3"/>
<rect x="590.2" y="178.96" width="10.9" height="17.4" fill="#fff" fill-opacity="0.3"/>
<rect x="590.8" y="183.26" width="9.7" height="9.5" fill="#3d90a5"/>
<text x="605.2" y="193.36">法规公文</text>
<rect x="604.8" y="201.9" width="60.1" height="17.4" fill="#fff" fill-opacity="0.3"/>
<rect x="590.2" y="201.9" width="10.9" height="17.4" fill="#fff" fill-opacity="0.3"/>
<rect x="590.8" y="206.2" width="9.7" height="9.5" fill="#cb7b39"/>
<text x="605.2" y="216.3">政府会议</text>
<rect x="604.8" y="224.84" width="89.9" height="17.4" fill="#fff" fill-opacity="0.3"/>
<rect x="590.2" y="224.84" width="10.9" height="17.4" fill="#fff" fill-opacity="0.3"/>
<rect x="590.8" y="229.14" width="9.7" height="9.5" fill="#4F81BD"/>
<text x="605.2" y="239.24">政府工作报告</text>
<rect x="604.8" y="247.78" width="60.1" height="17.4" fill="#fff" fill-opacity="0.3"/>
<rect x="590.2" y="247.78" width="10.9" height="17.4" fill="#fff" fill-opacity="0.3"/>
<rect x="590.8" y="252.08" width="9.7" height="9.5" fill="#C0504D"/>
<text x="605.2" y="262.18">民生公益</text>
<rect x="604.8" y="270.72" width="60.1" height="17.4" fill="#fff" fill-opacity="0.3"/>
<rect x="590.2" y="270.72" width="10.9" height="17.4" fill="#fff" fill-opacity="0.3"/>
<rect x="590.8" y="275.02" width="9.7" height="9.5" fill="#9BBB59"/>
<text x="605.2" y="285.12">农业农村</text>
<rect x="604.8" y="293.66" width="119.7" height="17.4" fill="#fff" fill-opacity="0.3"/>
<rect x="590.2" y="293.66" width="10.9" height="17.4" fill="#fff" fill-opacity="0.3"/>
<rect x="590.8" y="297.96" width="9.7" height="9.5" fill="#8064A2"/>
<text x="605.2" y="308.06">重要部署执行公开</text>
<rect x="604.8" y="316.6" width="89.9" height="17.4" fill="#fff" fill-opacity="0.3"/>
<rect x="590.2" y="316.6" width="10.9" height="17.4" fill="#fff" fill-opacity="0.3"/>
<rect x="590.8" y="320.9" width="9.7" height="9.5" fill="#4BACC6"/>
<text x="605.2" y="331">建议提案办理</text>
<rect x="604.8" y="339.54" width="60.1" height="17.4" fill="#fff" fill-opacity="0.3"/>
<rect x="590.2" y="339.54" width="10.9" height="17.4" fill="#fff" fill-opacity="0.3"/>
<rect x="590.8" y="343.84" width="9.7" height="9.5" fill="#F79646"/>
<text x="605.2" y="353.94">财政信息</text>
<rect x="604.8" y="362.48" width="104.8" height="17.4" fill="#fff" fill-opacity="0.3"/>
<rect x="590.2" y="362.48" width="10.9" height="17.4" fill="#fff" fill-opacity="0.3"/>
<rect x="590.8" y="366.78" width="9.7" height="9.5" fill="#8CA6D2"/>
<text x="605.2" y="376.88">管理和服务公开</text>
<rect x="604.8" y="385.42" width="60.1" height="17.4" fill="#fff" fill-opacity="0.3"/>
<rect x="590.2" y="385.42" width="10.9" height="17.4" fill="#fff" fill-opacity="0.3"/>
<rect x="590.8" y="389.72" width="9.7" height="9.5" fill="#D68B8A"/>
<text x="605.2" y="399.82">公共监管</text>
<rect x="604.8" y="408.36" width="149.5" height="17.4" fill="#fff" fill-opacity="0.3"/>
<rect x="590.2" y="408.36" width="10.9" height="17.4" fill="#fff" fill-opacity="0.3"/>
<rect x="590.8" y="412.66" width="9.7" height="9.5" fill="#B9D28F"/>
<text x="605.2" y="422.76">政府信息公开年度报告</text>
<rect x="604.8" y="431.3" width="119.7" height="17.4" fill="#fff" fill-opacity="0.3"/>
<rect x="590.2" y="431.3" width="10.9" height="17.4" fill="#fff" fill-opacity="0.3"/>
<rect x="590.8" y="435.6" width="9.7" height="9.5" fill="#A897C2"/>
<text x="605.2" y="445.7">政务公开保障机制</text>
<rect x="604.8" y="454.24" width="119.7" height="17.4" fill="#fff" fill-opacity="0.3"/>
<rect x="590.2" y="454.24" width="10.9" height="17.4" fill="#fff" fill-opacity="0.3"/>
<rect x="590.8" y="458.54" width="9.7" height="9.5" fill="#84C5D9"/>
<text x="605.2" y="468.64">主动公开基本目录</text>
<rect x="604.8" y="477.18" width="164.4" height="17.4" fill="#fff" fill-opacity="0.3"/>
<rect x="590.2" y="477.18" width="10.9" height="17.4" fill="#fff" fill-opacity="0.3"/>
<rect x="590.8" y="481.48" width="9.7" height="9.5" fill="#FBB687"/>
<text x="605.2" y="491.58">基层政务公开标准化目录</text>
<rect x="604.8" y="500.12" width="30.3" height="17.4" fill="#fff" fill-opacity="0.3"/>
<rect x="590.2" y="500.12" width="10.9" height="17.4" fill="#fff" fill-opacity="0.3"/>
<rect x="590.8" y="504.42" width="9.7" height="9.5" fill="#C5D4EF"/>
<text x="605.2" y="514.52">其他</text>
<rect x="604.8" y="523.06" width="30.3" height="17.4" fill="#fff" fill-opacity="0.3"/>
<rect x="590.2" y="523.06" width="10.9" height="17.4" fill="#fff" fill-opacity="0.3"/>
<rect x="590.8" y="527.36" width="9.7" height="9.5" fill="#EFC3C3"/>
<text x="605.2" y="537.46">合计</text>
</g>
</svg>
<h1 class="txt">凤凰镇人民政府信息公开网站信息发布情况</h1>
<ul class="txt"><li>业务工作</li><li>政府信息公开指南</li><li>机构职能</li><li>规划计划</li><li>法规公文</li><li>政府会议</li><li>政府工作报告</li><li>民生公益</li><li>农业农村</li><li>重要部署执行公开</li><li>建议提案办理</li><li>财政信息</li><li>管理和服务公开</li><li>公共监管</li><li>政府信息公开年度报告</li><li>政务公开保障机制</li><li>主动公开基本目录</li><li>基层政务公开标准化目录</li><li>其他</li><li>合计</li></ul>
<div class="lb" style="left:360.92px;top:202.86px;width:64px">39, 23%</div>
<div class="lb" style="left:407.47px;top:256.97px;width:47px">1, 1%</div>
<div class="lb" style="left:407.79px;top:260.2px;width:47px">1, 1%</div>
<div class="lb" style="left:407.98px;top:265.08px;width:47px">2, 1%</div>
<div class="lb" style="left:407.81px;top:269.95px;width:47px">1, 1%</div>
<div class="lb" style="left:406.31px;top:281.27px;width:47px">6, 4%</div>
<div class="lb" style="left:403.28px;top:292.44px;width:47px">1, 1%</div>
<div class="lb" style="left:398.57px;top:302.47px;width:47px">5, 3%</div>
<div class="lb" style="left:389.02px;top:315.27px;width:47px">4, 2%</div>
<div class="lb" style="left:376.74px;top:326.65px;width:47px">5, 3%</div>
<div class="lb" style="left:363.8px;top:335.28px;width:47px">3, 2%</div>
<div class="lb" style="left:356.72px;top:339.01px;width:47px">1, 1%</div>
<div class="lb" style="left:349.28px;top:342.3px;width:47px">3, 2%</div>
<div class="lb" style="left:341.52px;top:345.14px;width:47px">1, 1%</div>
<div class="lb" style="left:337.54px;top:346.39px;width:47px">1, 1%</div>
<div class="lb" style="left:316.16px;top:350.81px;width:47px">9, 5%</div>
<div class="lb" style="left:176.74px;top:264.45px;width:64px">83, 50%</div>
</body></html>
